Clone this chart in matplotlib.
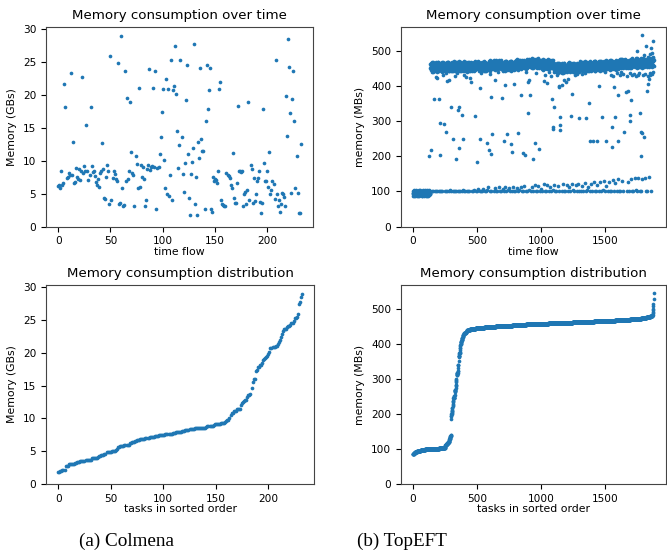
import numpy as np
import matplotlib.pyplot as plt

# Colmena: peak memory of each task (GBs), in the order the tasks ran
colmena_mem = [
    6.2, 6.3, 5.8, 8.5, 6.4, 6.6, 21.7, 18.2, 7.4, 7.6,
    8.2, 7.9, 23.3, 7.8, 12.8, 6.7, 6.8, 8.9, 7.6, 7.3,
    8.7, 7.1, 8.4, 22.8, 8.1, 9.2, 8.5, 15.5, 8.5, 7.1,
    7.9, 18.2, 9.2, 8.3, 8.4, 7.7, 6.8, 6.4, 7.3, 6.0,
    8.2, 8.5, 12.7, 8.8, 4.4, 4.2, 7.6, 9.3, 8.5, 3.5,
    25.9, 4.0, 7.4, 8.4, 8.0, 7.2, 7.0, 24.9, 3.5, 3.6,
    29.0, 5.9, 3.1, 3.3, 23.6, 7.0, 19.5, 7.3, 8.4, 19.0,
    11.4, 8.1, 7.8, 3.1, 10.8, 9.5, 5.8, 21.1, 6.0, 9.3,
    7.6, 9.1, 7.2, 3.1, 4.0, 8.8, 9.3, 24.0, 8.6, 9.1,
    9.2, 21.1, 9.1, 23.7, 2.7, 8.9, 9.0, 11.1, 13.6, 17.4,
    20.9, 10.1, 5.8, 22.4, 4.9, 20.9, 4.6, 7.9, 25.3, 4.0,
    20.8, 21.4, 27.5, 20.1, 14.6, 8.9, 12.4, 25.3, 13.6, 8.0,
    5.3, 9.7, 19.2, 24.5, 11.1, 4.4, 1.8, 8.0, 9.8, 12.0,
    27.7, 3.5, 7.5, 1.8, 12.8, 10.5, 24.1, 13.3, 11.5, 11.5,
    2.7, 16.0, 24.6, 17.9, 20.7, 24.1, 2.7, 2.2, 7.6, 7.0,
    7.3, 7.1, 6.7, 8.5, 20.9, 22.0, 4.0, 3.5, 3.3, 3.1,
    3.1, 8.1, 7.8, 7.7, 7.4, 6.4, 5.9, 11.2, 4.4, 3.6,
    3.6, 6.7, 18.4, 8.5, 8.4, 8.3, 8.5, 3.2, 4.9, 5.2,
    3.4, 5.6, 18.9, 4.1, 9.3, 8.8, 3.6, 7.4, 3.9, 4.9,
    6.9, 7.4, 8.5, 3.7, 2.1, 3.6, 17.9, 9.6, 6.9, 7.0,
    8.5, 6.0, 11.4, 5.0, 5.6, 6.9, 6.5, 4.2, 25.4, 4.9,
    3.1, 4.0, 2.2, 3.5, 5.1, 4.9, 4.5, 3.2, 19.8, 13.8,
    28.5, 24.2, 17.2, 5.1, 19.4, 23.7, 16.0, 5.8, 10.8, 5.1,
    2.0, 2.0, 12.5,
]

# TopEFT: peak memory of each task (MBs)
topeft_n = 1880
# the first ~135 tasks all sit near 100 MB
topeft_start = [88, 97, 92, 101, 95, 99, 86, 94, 100, 97, 90, 103, 96, 98, 93, 99, 87,
                102, 95, 97, 91, 100, 98, 94, 89, 104, 96, 99, 92, 98, 101, 95, 97, 93]
# main band: level for each block of 100 tasks, plus spread around it
topeft_band_level = [455, 455, 455, 456, 456, 457, 460, 458, 462, 465,
                     462, 452, 453, 456, 458, 460, 464, 466, 468]
topeft_band_spread = [-6, 3, -1, 8, -9, 2, 11, -4, 5, 0, -12, 9, 1, -5, 7, -2, -10, 4, -3, 13, -7,
                      1, 10, -1, -14, 6, -4, 3, 12, -8, 14, -2, 2, -11, 6, -6, 8, -3, 4, -13, 0]
# low band after the start: one task every 10, from task 150
topeft_low = [
    101, 100, 102, 101, 100, 101, 102, 100, 101, 100,
    102, 101, 100, 101, 103, 100, 101, 102, 100, 101,
    100, 102, 101, 100, 103, 101, 100, 102, 101, 100,
    101, 102, 100, 104, 101, 100, 106, 101, 102, 100,
    108, 101, 100, 103, 112, 101, 100, 105, 102, 110,
    101, 100, 113, 102, 101, 108, 100, 112, 101, 103,
    110, 100, 101, 114, 102, 100, 111, 101, 104, 113,
    100, 102, 115, 101, 100, 110, 103, 101, 112, 100,
    117, 101, 102, 116, 100, 108, 101, 120, 102, 100,
    118, 101, 112, 100, 103, 119, 101, 100, 116, 102,
    113, 100, 121, 101, 102, 118, 100, 114, 101, 120,
    103, 100, 117, 101, 122, 100, 102, 115, 101, 124,
    100, 103, 112, 101, 120, 100, 128, 102, 101, 118,
    100, 126, 101, 103, 130, 100, 115, 101, 128, 102,
    100, 133, 101, 124, 100, 135, 102, 101, 131, 100,
    136, 101, 100, 128, 102, 135, 100, 101, 137, 103,
    100, 138, 101, 100, 136, 102, 139, 100, 101, 140,
    136, 102,
]
# tasks just under the main band
topeft_dip_task = [158, 181, 199, 233, 255, 281, 303, 325, 348, 373, 398, 423, 443, 473, 533,
                   563, 603, 663, 703, 763, 823, 883, 963, 1013, 1033, 1063, 1078, 1113, 1128,
                   1163, 1188, 1213, 1253, 1283, 1303, 1343, 1423, 1503, 1543, 1563, 1593, 1613,
                   1628, 1643, 1668, 1693, 1713, 1728, 1743, 1758, 1768, 1798, 1813, 1833, 1848,
                   1863, 1871]
topeft_dip_mem = [440, 425, 445, 432, 438, 418, 443, 428, 436, 445, 430, 441, 424, 446, 438,
                  442, 435, 440, 444, 437, 446, 441, 438, 445, 432, 440, 427, 443, 430,
                  437, 444, 421, 441, 435, 446, 438, 444, 440, 432, 428, 436, 430,
                  441, 433, 427, 438, 431, 435, 429, 432, 436, 430, 434, 428, 437,
                  433, 440]
# scattered tasks between the two bands
topeft_mid_task = [129, 142, 168, 186, 205, 209, 215, 240, 261, 264, 295, 315, 336, 349, 357,
                   362, 383, 388, 414, 450, 486, 502, 522, 525, 577, 595, 608, 613, 620, 644,
                   693, 708, 718, 737, 763, 776, 791, 817, 846, 859, 872, 895, 900, 905, 915,
                   936, 952, 983, 1021, 1045, 1086, 1091, 1096, 1102, 1138, 1143, 1148, 1150,
                   1152, 1164, 1177, 1195, 1231, 1241, 1262, 1293, 1319, 1353, 1376, 1386,
                   1409, 1435, 1453, 1479, 1505, 1551, 1557, 1567, 1577, 1598, 1603, 1650,
                   1660, 1681, 1694, 1696, 1701, 1771, 1779, 1784, 1789, 1800, 1823, 1826,
                   1836, 1844, 1852]
topeft_mid_mem = [201, 217, 364, 423, 364, 296, 203, 293, 269, 414, 339, 250, 193, 331, 224,
                  340, 317, 248, 426, 412, 316, 184, 393, 250, 237, 217, 207, 370, 263, 416,
                  366, 244, 404, 264, 234, 211, 406, 265, 373, 209, 205, 412, 322, 416, 374,
                  193, 237, 222, 413, 409, 364, 283, 279, 340, 401, 396, 312, 290,
                  274, 404, 416, 411, 316, 376, 431, 310, 433, 310, 352, 244,
                  244, 244, 399, 313, 244, 282, 227, 398, 313, 375, 244, 269,
                  383, 387, 318, 300, 361, 322, 201, 269, 265, 255, 200, 387,
                  406, 420, 431]
# a few tasks above the band near the end
topeft_top_task = [1748, 1786, 1805, 1823, 1850, 1862, 1870, 1876]
topeft_top_mem = [499, 545, 488, 513, 492, 507, 495, 527]

# put the TopEFT series together
task = np.arange(topeft_n)
topeft_mem = np.array(topeft_band_level, dtype=float)[task // 100] + np.resize(topeft_band_spread, topeft_n)
topeft_mem[:136] = np.resize(topeft_start, 136)
topeft_mem[150:150 + 10 * len(topeft_low):10] = topeft_low
topeft_mem[topeft_dip_task] = topeft_dip_mem
topeft_mem[topeft_mid_task] = topeft_mid_mem
topeft_mem[topeft_top_task] = topeft_top_mem

fig = plt.figure(figsize=(6.67, 5.5), dpi=100)
plt.rcParams['xtick.labelsize'] = 7.6
plt.rcParams['ytick.labelsize'] = 7.6

panels = [
    ([0.069, 0.588, 0.400, 0.363], colmena_mem, False, 'Memory consumption over time', 'time flow', 'Memory (GBs)'),
    ([0.601, 0.588, 0.397, 0.363], topeft_mem, False, 'Memory consumption over time', 'time flow', 'memory (MBs)'),
    ([0.069, 0.120, 0.402, 0.362], colmena_mem, True, 'Memory consumption distribution', 'tasks in sorted order', 'Memory (GBs)'),
    ([0.601, 0.120, 0.397, 0.362], topeft_mem, True, 'Memory consumption distribution', 'tasks in sorted order', 'memory (MBs)'),
]

for rect, mem, sort_it, title, xlabel, ylabel in panels:
    ax = fig.add_axes(rect)
    y = np.sort(mem) if sort_it else np.asarray(mem)
    ax.scatter(np.arange(len(y)), y, s=7, color='#1f77b4', linewidths=0)
    ax.set_ylim(bottom=0)
    ax.set_title(title, fontsize=9.6)
    ax.set_xlabel(xlabel, fontsize=7.8, labelpad=0.5)
    ax.set_ylabel(ylabel, fontsize=7.8)
    for s in ax.spines.values():
        s.set_color('#444444')

fig.text(0.19, 0.008, '(a) Colmena', family='Liberation Serif', fontsize=13.8, ha='center')
fig.text(0.603, 0.008, '(b) TopEFT', family='Liberation Serif', fontsize=13.8, ha='center')

plt.savefig('out.png', dpi=100)
